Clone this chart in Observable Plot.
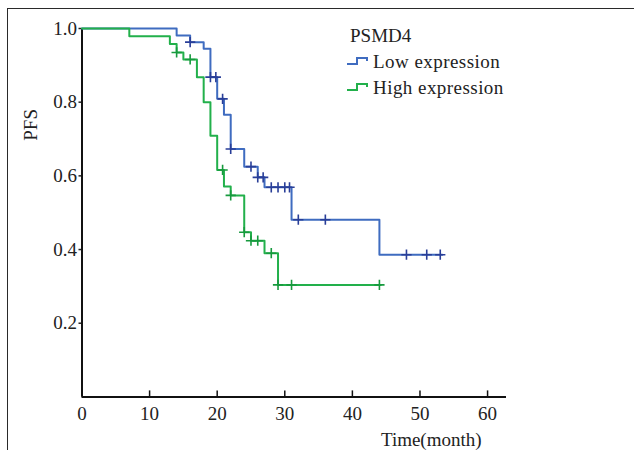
<!DOCTYPE html>
<html>
<head>
<meta charset="utf-8">
<script src="https://cdn.jsdelivr.net/npm/d3@7"></script>
<script src="https://cdn.jsdelivr.net/npm/@observablehq/plot@0.6"></script>
<style>
  html, body { margin: 0; padding: 0; background: #ffffff; }
  #wrap { position: relative; width: 635px; height: 450px; overflow: hidden; font-family: "Liberation Serif", serif; }
  #frame { position: absolute; left: 7px; top: 8px; width: 626px; height: 460px; border-top: 1.5px solid #2a2a2a; border-left: 1.5px solid #2a2a2a; }
  #legend { position: absolute; left: 347px; top: 22px; font-family: "Liberation Serif", serif; font-size: 19px; color: #222; line-height: 25px; }
  #legend .row { display: flex; align-items: center; height: 26px; }
  #legend .row span { letter-spacing: 0.45px; }
  #legend svg { margin-right: 4px; }
</style>
</head>
<body>
<div id="wrap">
  <div id="frame"></div>
  <div id="chart"></div>
  <div id="legend"></div>
</div>
<script>
// ---- data ----
const lowTimes  = [0, 14, 16, 18, 19, 20, 21, 22, 24, 26, 27, 31, 44];
const lowSurv   = [1.0, 0.981, 0.963, 0.945, 0.868, 0.809, 0.766, 0.673, 0.625, 0.596, 0.569, 0.481, 0.386];
const lowEnd    = 53.3;
const lowCensor = [16, 19, 19.8, 20.8, 22, 25, 26, 26.8, 28, 29, 30, 30.7, 32, 36, 48, 51, 53];

const highTimes  = [0, 7, 13, 14, 15, 17, 18, 19, 20, 21, 22, 24, 25, 27, 29];
const highSurv   = [1.0, 0.979, 0.958, 0.935, 0.916, 0.868, 0.800, 0.709, 0.616, 0.571, 0.547, 0.447, 0.424, 0.390, 0.304];
const highEnd    = 44.2;
const highCensor = [14, 16, 20.8, 22, 24, 25, 26, 28, 29, 31, 44];

const xTicks = [0, 10, 20, 30, 40, 50, 60];
const yTicks = [0.2, 0.4, 0.6, 0.8, 1.0];

const legendTitle = "PSMD4";
const seriesNames = ["Low expression", "High expression"];
const xLabel = "Time(month)";
const yLabel = "PFS";

// ---- styles ----
const blue = "#3f6cc0", blueMark = "#293e98";
const green = "#22b04b", greenMark = "#179a3e";

// ---- build tables ----
function curve(times, surv, end) {
  const pts = times.map((t, i) => ({t, s: surv[i]}));
  pts.push({t: end, s: surv[surv.length - 1]});
  return pts;
}
function survAt(times, surv, t) {
  let s = surv[0];
  for (let i = 0; i < times.length; i++) if (times[i] <= t + 1e-9) s = surv[i];
  return s;
}
const lowCurve = curve(lowTimes, lowSurv, lowEnd);
const highCurve = curve(highTimes, highSurv, highEnd);
const lowMarks = lowCensor.map(t => ({t, s: survAt(lowTimes, lowSurv, t)}));
const highMarks = highCensor.map(t => ({t, s: survAt(highTimes, highSurv, t)}));

const W = 635, H = 450;
const mL = 81.5, mR = 129, mT = 28, mB = 53.6;
const innerH = H - mT - mB;

const chart = Plot.plot({
  width: W, height: H,
  marginLeft: mL, marginRight: mR, marginTop: mT, marginBottom: mB,
  style: {fontFamily: "Liberation Serif, serif", fontSize: "19px", color: "#222", background: "transparent", overflow: "visible"},
  x: {domain: [0, 62.8]},
  y: {domain: [0, 1]},
  marks: [
    Plot.axisX(xTicks, {tickSize: 0, tickPadding: 10, label: null, fontSize: 19, fill: "#222"}),
    Plot.axisY(yTicks, {tickSize: 3, tickPadding: 2, tickFormat: d3.format(".1f"), label: null, fontSize: 19, fill: "#222", strokeWidth: 1.5}),
    Plot.tickX(xTicks, {x: d => d, stroke: "#111", strokeWidth: 1.5, insetTop: innerH - 6}),
    Plot.ruleY([0], {stroke: "#111", strokeWidth: 2}),
    Plot.ruleX([0], {y1: 0, y2: 1, stroke: "#111", strokeWidth: 2}),
    Plot.line(lowCurve, {x: "t", y: "s", curve: "step-after", stroke: blue, strokeWidth: 2}),
    Plot.line(highCurve, {x: "t", y: "s", curve: "step-after", stroke: green, strokeWidth: 2}),
    Plot.dot(lowMarks, {x: "t", y: "s", symbol: "plus", r: 3.4, stroke: blueMark, strokeWidth: 1.6}),
    Plot.dot(highMarks, {x: "t", y: "s", symbol: "plus", r: 3.4, stroke: greenMark, strokeWidth: 1.6}),
    Plot.text([xLabel], {frameAnchor: "bottom", text: d => d, dx: 137, dy: 43, lineAnchor: "middle", fontSize: 19, fill: "#222"}),
    Plot.text([yLabel], {frameAnchor: "left", text: d => d, rotate: -90, dx: -51, dy: -72, lineAnchor: "middle", fontSize: 19, fill: "#222"})
  ]
});
document.getElementById("chart").appendChild(chart);

// ---- legend ----
const leg = document.getElementById("legend");
const head = document.createElement("div");
head.className = "row";
head.style.paddingLeft = "3px";
head.textContent = legendTitle;
leg.appendChild(head);
[[seriesNames[0], blue], [seriesNames[1], green]].forEach(([name, col]) => {
  const row = document.createElement("div");
  row.className = "row";
  row.innerHTML = `<svg width="22" height="12"><path d="M0,9 H10 V3 H20 V6" fill="none" stroke="${col}" stroke-width="2"/></svg><span>${name}</span>`;
  leg.appendChild(row);
});
</script>
</body>
</html>
